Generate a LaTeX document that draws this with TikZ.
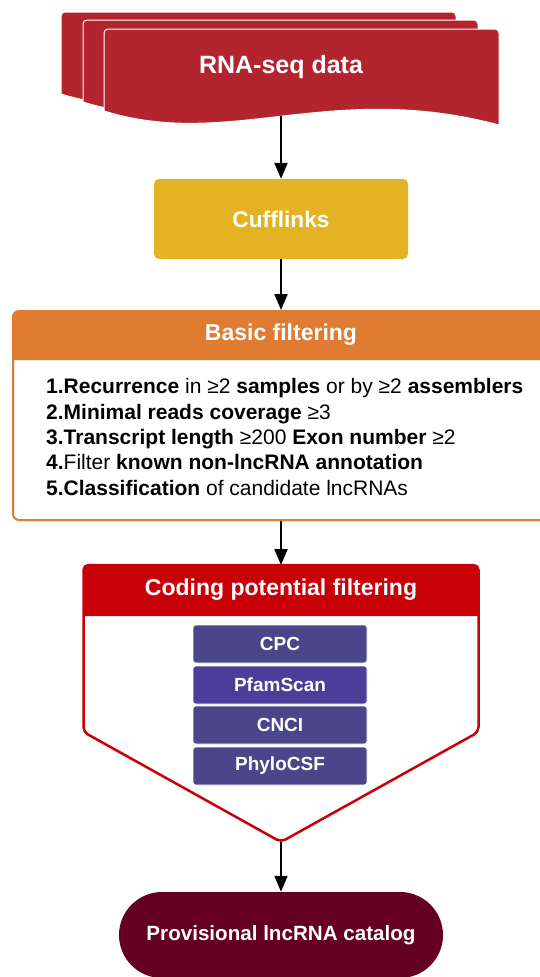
\documentclass[tikz,border=0pt]{standalone}
\usepackage{fontspec}
\setmainfont{Liberation Sans}
\usetikzlibrary{arrows.meta}

\definecolor{rnared}{RGB}{179,37,46}
\definecolor{cuffgold}{RGB}{227,179,35}
\definecolor{bforange}{RGB}{224,123,50}
\definecolor{cpred}{RGB}{200,0,8}
\definecolor{toolblue}{RGB}{74,70,138}
\definecolor{toolpurple}{RGB}{75,61,152}
\definecolor{catmaroon}{RGB}{101,0,34}

\begin{document}
\begin{tikzpicture}[x=1pt,y=-1pt,
	flow/.style={-{Triangle[length=16pt,width=13pt]}, line width=2pt},
	docsheet/.style={fill=rnared, draw=white, line width=1pt},
	title/.style={text=white, font=\bfseries\fontsize{23}{27}\selectfont, inner sep=0pt},
	tool/.style={rectangle, rounded corners=3pt, draw=white, line width=.6pt, text=white, font=\bfseries\fontsize{19}{22}\selectfont, minimum width=174pt, minimum height=38pt, inner sep=0pt}]

	\useasboundingbox (0,0) rectangle (540,977);

	% stacked RNA-seq sheets
	\draw[docsheet, shift={(-43,-17)}]	(104,111) [rounded corners=4pt] -- (104,29) -- (499,29) [sharp corners] -- (499,125) .. controls (330,80) and (230,150) .. (104,111) -- cycle;
	\draw[docsheet, shift={(-21,-9)}]	(104,111) [rounded corners=4pt] -- (104,29) -- (499,29) [sharp corners] -- (499,125) .. controls (330,80) and (230,150) .. (104,111) -- cycle;
	\draw[docsheet]	(104,111) [rounded corners=4pt] -- (104,29) -- (499,29) [sharp corners] -- (499,125) .. controls (330,80) and (230,150) .. (104,111) -- cycle;

	\node 	(rna)		at	(281,67) 	[title, font=\bfseries\fontsize{25}{30}\selectfont]{RNA-seq data};
	\coordinate	(rna-s)	at	(281,116);

	\node 	(cuff)		at	(281,219) 	[rectangle, rounded corners=5pt, fill=cuffgold, minimum width=254pt, minimum height=80pt, title, font=\bfseries\fontsize{22.7}{27}\selectfont]{Cufflinks};

	% basic filtering
	\node 	(bf)		at	(281,415.5) 	[rectangle, rounded corners=6pt, draw=bforange, line width=2pt, fill=white, minimum width=536pt, minimum height=209pt]{};
	\fill[bforange]	(13,360) [rounded corners=6pt] -- (13,311) -- (549,311) [sharp corners] -- (549,360) -- cycle;
	\node 	(bfh)		at	(281,335) 	[title]{Basic filtering};

	\node 	(crit)		at	(46,437) 	[anchor=west, align=left, inner sep=0pt, font=\fontsize{21}{25.4}\selectfont]{\textbf{1.Recurrence} in ≥2 \textbf{samples} or by ≥2 \textbf{assemblers}\\
		\textbf{2.Minimal reads coverage} ≥3\\
		\textbf{3.Transcript length} ≥200 \textbf{Exon number} ≥2\\
		\textbf{4.}Filter \textbf{known non-lncRNA annotation}\\
		\textbf{5.Classification} of candidate lncRNAs};

	% coding potential filtering
	\draw[cpred, line width=2.5pt, fill=white, rounded corners=5pt]	(83.5,565) -- (478.5,565) -- (478.5,732) -- (281,842) -- (83.5,732) -- cycle;
	\fill[cpred]	(83.5,616) [rounded corners=5pt] -- (83.5,565) -- (478.5,565) [sharp corners] -- (478.5,616) -- cycle;
	\node 	(cph)		at	(281,590) 	[title]{Coding potential filtering};
	\coordinate	(cp-top)	at	(281,565);
	\coordinate	(cp-tip)	at	(281,842);

	\node 	(cpc)		at	(280,644) 	[tool, fill=toolblue]{CPC};
	\node 	(pfam)		at	(280,685) 	[tool, fill=toolpurple]{PfamScan};
	\node 	(cnci)		at	(280,725) 	[tool, fill=toolblue]{CNCI};
	\node 	(phylo)		at	(280,766) 	[tool, fill=toolblue]{PhyloCSF};

	\node 	(cat)		at	(281,935) 	[rectangle, rounded corners=43pt, fill=catmaroon, minimum width=324pt, minimum height=86pt, title, font=\bfseries\fontsize{20.6}{24}\selectfont]{Provisional lncRNA catalog};

	\draw[flow]	(rna-s)	--	(cuff.north);
	\draw[flow]	(cuff.south)	--	(bf.north);
	\draw[flow]	(bf.south)	--	(cp-top);
	\draw[flow]	(cp-tip)	--	(cat.north);

\end{tikzpicture}
\end{document}
